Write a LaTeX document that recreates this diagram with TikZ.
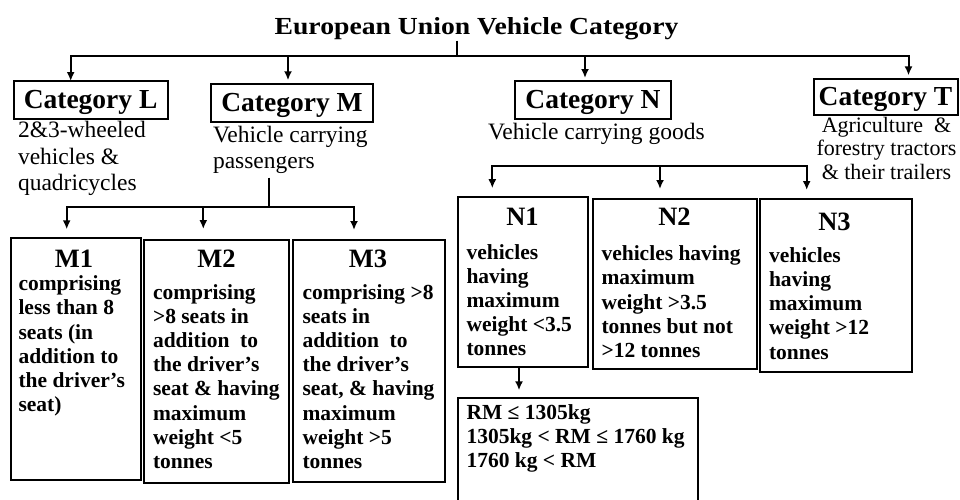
\documentclass[tikz,border=0pt]{standalone}
\usepackage{fontspec}
\setmainfont{Liberation Serif}
\usepackage{graphicx}
\usetikzlibrary{arrows.meta,calc,positioning}

\begin{document}
\begin{tikzpicture}[x=1pt, y=-1pt, line width=2pt,
  catbox/.style={draw, inner sep=0pt, outer sep=0pt, text height=22.5pt, text depth=6pt, font=\bfseries\fontsize{27.5}{30}\selectfont},
  subbox/.style={draw, inner sep=0pt, outer sep=0pt, anchor=north west},
  head/.style={anchor=base, inner sep=0pt, font=\bfseries\fontsize{26.5}{30}\selectfont},
  body/.style={anchor=north west, inner sep=0pt, align=left, execute at begin node=\strut, font=\bfseries\fontsize{21.5}{24.2}\selectfont},
  desc/.style={anchor=north west, inner sep=0pt, align=left, execute at begin node=\strut, font=\fontsize{23.5}{26.5}\selectfont},
  tdesc/.style={anchor=north, inner sep=0pt, align=center, execute at begin node=\strut, font=\fontsize{22}{23.3}\selectfont},
  arr/.style={-{Latex[length=9pt,width=8pt]}}]

\useasboundingbox (0,0) rectangle (960,499);

\node[anchor=base, inner sep=0pt, font=\bfseries\fontsize{24.5}{28}\selectfont] (title) at (476.5,34.3) {\scalebox{1.13}[1]{European Union Vehicle Category}};

\node[catbox, minimum width=154, minimum height=38.3] (catL) at (90.6,100.2) {Category L};
\node[catbox, minimum width=162, minimum height=37.5] (catM) at (292,103)    {Category M};
\node[catbox, minimum width=156, minimum height=38]   (catN) at (593,100)    {Category N};
\node[catbox, minimum width=144, minimum height=35.7] (catT) at (885.5,97.2) {Category T};

\node[desc] (descL) at (17,120.45)  {2\&3-wheeled\\vehicles \&\\quadricycles};
\node[desc] (descM) at (212,124.75) {Vehicle carrying\\passengers};
\node[desc] (descN) at (487,119.45) {Vehicle carrying goods};
\node[tdesc] (descT) at (886.5,116.4) {Agriculture\ \ \&\\forestry tractors\\\& their trailers};

\node[subbox, minimum width=129.7, minimum height=241.7] (m1) at (11,238.3)   {};
\node[subbox, minimum width=145,   minimum height=243.3] (m2) at (144.3,240)  {};
\node[subbox, minimum width=152.3, minimum height=241.7] (m3) at (293,240)    {};
\node[subbox, minimum width=130,   minimum height=170.6] (n1) at (458.3,196.7) {};
\node[subbox, minimum width=164,   minimum height=170]   (n2) at (593.3,199)  {};
\node[subbox, minimum width=151.7, minimum height=172.7] (n3) at (760,199)    {};
\node[subbox, minimum width=240,   minimum height=122]   (rm) at (458.3,398.3) {};

\node[head] (m1h) at (74,267)    {M1};
\node[head] (m2h) at (216.5,267.7) {M2};
\node[head] (m3h) at (368,267.7) {M3};
\node[head] (n1h) at (522.5,225) {N1};
\node[head] (n2h) at (674.5,225) {N2};
\node[head] (n3h) at (834.5,230) {N3};

\node[body] (m1t) at (17.5,274.8) {comprising\\less than 8\\seats (in\\addition to\\the driver's\\seat)};
\node[body] (m2t) at (152,283.1)  {comprising\\>8 seats in\\addition\ \ to\\the driver's\\seat \& having\\maximum\\weight <5\\tonnes};
\node[body] (m3t) at (301.5,283.1) {comprising >8\\seats in\\addition\ \ to\\the driver's\\seat, \& having\\maximum\\weight >5\\tonnes};
\node[body] (n1t) at (465.5,243.1) {vehicles\\having\\maximum\\weight <3.5\\tonnes};
\node[body] (n2t) at (600.5,244.8) {vehicles having\\maximum\\weight >3.5\\tonnes but not\\>12 tonnes};
\node[body] (n3t) at (768,246.4)   {vehicles\\having\\maximum\\weight >12\\tonnes};
\node[body] (rmt) at (465.5,403.1) {RM ≤ 1305kg\\1305kg < RM ≤ 1760 kg\\1760 kg < RM};

\coordinate (hub) at (457,56);
\coordinate (jL) at (70.7,56);
\coordinate (jM) at (288,56);
\coordinate (jN) at (585,56);
\coordinate (jT) at (908.5,56);

\draw (title.south -| hub) -- (hub);
\draw[arr] (hub) -- (jL) -- (jL |- catL.north);
\draw[arr, shorten >=4pt] (hub) -- (jT) -- (jT |- catT.north);
\draw[arr, shorten >=4pt] (jM) -- (jM |- catM.north);
\draw[arr, shorten >=3pt] (jN) -- (jN |- catN.north);

\coordinate (mhub) at (269.3,206.7);
\coordinate (jM1) at (66.7,206.7);
\coordinate (jM2) at (203.3,206.7);
\coordinate (jM3) at (354,206.7);

\draw (descM.south -| mhub) -- (mhub);
\draw[arr, shorten >=9pt] (mhub) -- (jM1) -- (jM1 |- m1.north);
\draw[arr, shorten >=10pt] (mhub) -- (jM3) -- (jM3 |- m3.north);
\draw[arr, shorten >=11pt] (jM2) -- (jM2 |- m2.north);

\coordinate (jN1) at (492.3,165.7);
\coordinate (jN2) at (660,165.7);
\coordinate (jN3) at (806.7,165.7);

\draw[arr, shorten >=8.5pt] (jN2) -- (jN1) -- (jN1 |- n1.north);
\draw[arr, shorten >=9pt] (jN2) -- (jN3) -- (jN3 |- n3.north);
\draw[arr, shorten >=10pt] (jN2) -- (jN2 |- n2.north);

\draw[arr, shorten >=8pt] ([xshift=-4.3pt]n1.south) -- ([xshift=-4.3pt]n1.south |- rm.north);

\end{tikzpicture}
\end{document}
